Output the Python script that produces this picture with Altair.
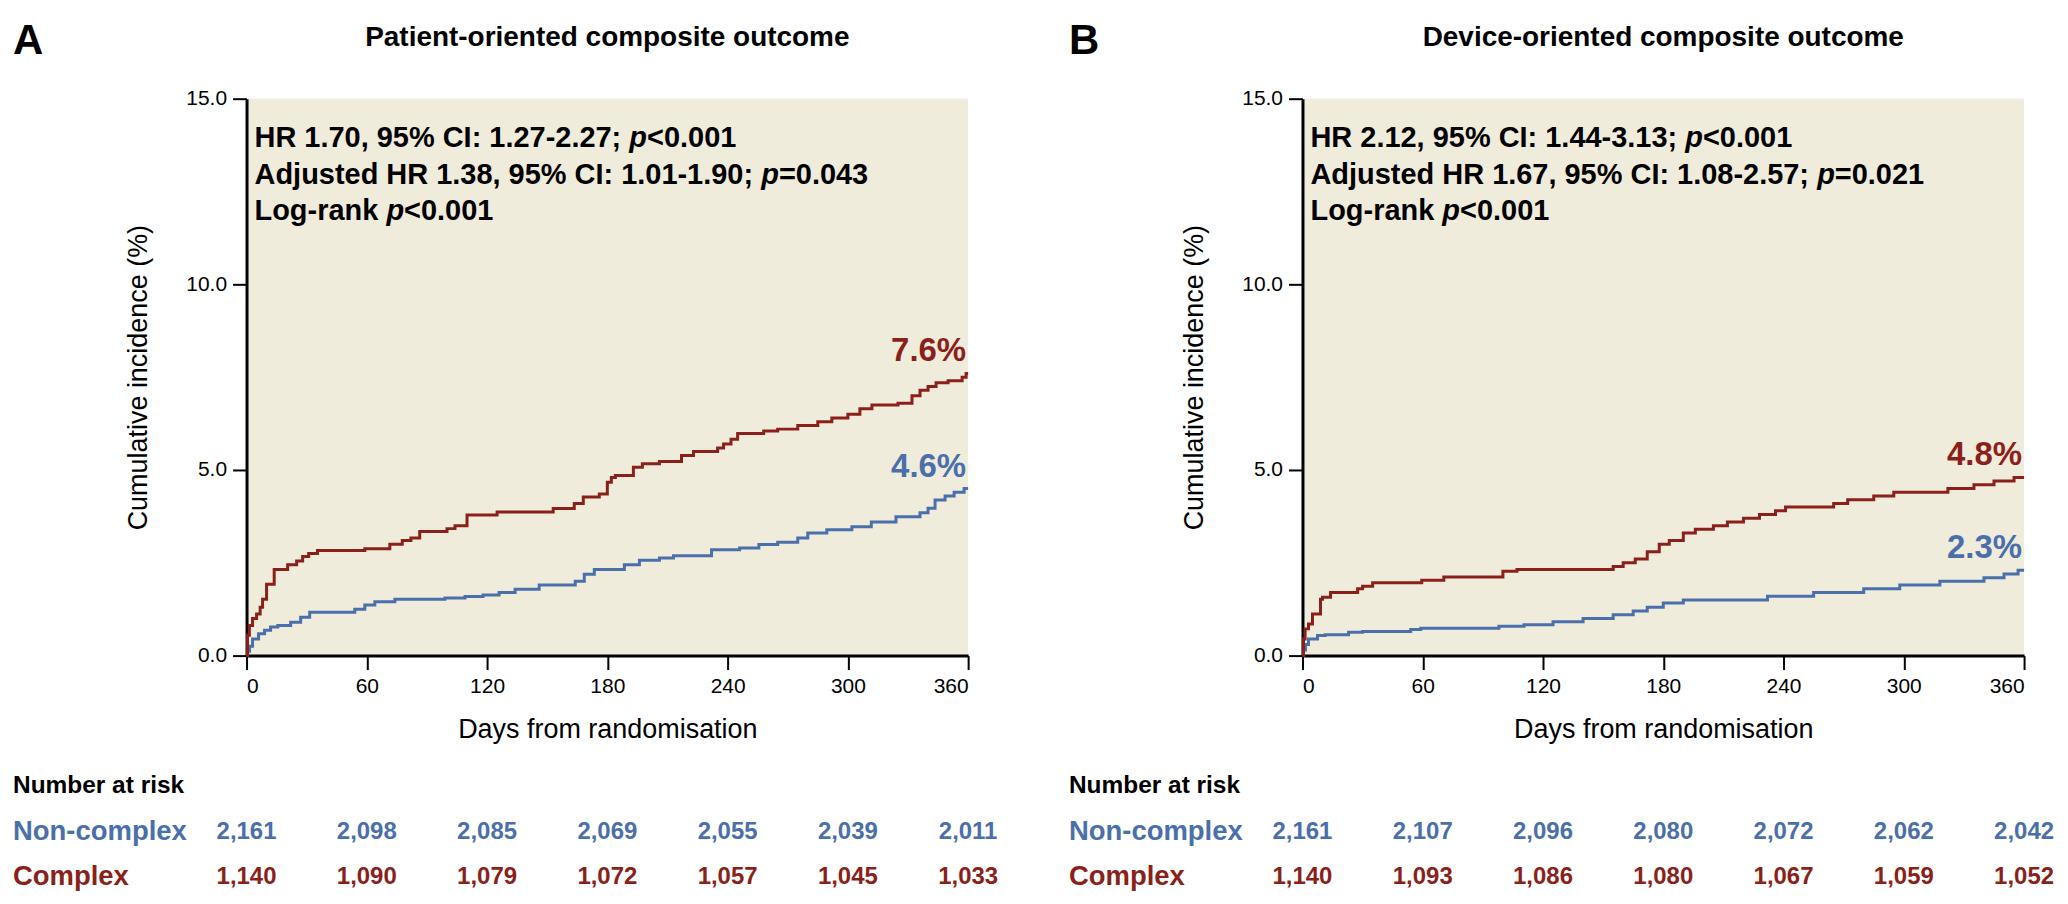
import altair as alt
import pandas as pd

# ---------------- data ----------------
A_complex_day = [0, 0.5, 1.4, 3, 5, 6.8, 8, 10, 13.8, 20.5, 25, 28, 31, 35.4, 59, 71.5, 77.7, 82, 86.4, 100, 104, 110, 125, 153, 163.5, 168, 176, 180, 182, 184, 193, 197.5, 206, 217, 223, 235, 238, 241.7, 245, 258, 265, 275, 285, 292, 300, 306, 312, 325, 332, 336, 340, 344, 350, 357, 359, 360]
A_complex_pct = [0, 0.55, 0.81, 1.0, 1.12, 1.3, 1.52, 1.92, 2.32, 2.45, 2.55, 2.67, 2.75, 2.83, 2.88, 3.0, 3.1, 3.17, 3.34, 3.42, 3.5, 3.79, 3.87, 3.96, 4.1, 4.27, 4.35, 4.67, 4.8, 4.85, 5.07, 5.17, 5.23, 5.39, 5.5, 5.59, 5.7, 5.83, 5.98, 6.05, 6.1, 6.2, 6.3, 6.4, 6.5, 6.65, 6.75, 6.8, 7.0, 7.15, 7.25, 7.35, 7.4, 7.5, 7.6, 7.6]

A_noncomplex_day = [0, 0.5, 1.5, 3, 6, 9, 12, 15.6, 22, 27, 31.5, 54, 59, 64, 74, 99, 109, 118, 126, 134, 146, 164, 168.5, 173.5, 188.5, 196, 206, 213, 232, 246, 255.6, 265, 275, 280, 289.5, 302, 311.7, 324, 336, 340, 343.5, 348.5, 353, 358, 360]
A_noncomplex_pct = [0, 0.12, 0.25, 0.45, 0.59, 0.68, 0.77, 0.81, 0.9, 1.03, 1.17, 1.25, 1.36, 1.45, 1.52, 1.55, 1.59, 1.63, 1.7, 1.79, 1.9, 2.0, 2.19, 2.32, 2.45, 2.57, 2.63, 2.69, 2.85, 2.9, 2.99, 3.05, 3.17, 3.3, 3.39, 3.47, 3.6, 3.74, 3.85, 3.97, 4.19, 4.3, 4.4, 4.5, 4.5]

B_complex_day = [0, 0.5, 1.3, 3, 5, 9, 10, 14, 27.5, 30, 35, 59.5, 70.5, 100, 107, 155, 160, 166, 172, 178, 183, 190, 196, 205, 212, 220, 228, 236, 241, 265, 272, 285, 295, 322, 335, 345, 355, 360]
B_complex_pct = [0, 0.45, 0.72, 0.85, 1.12, 1.52, 1.57, 1.7, 1.8, 1.87, 1.96, 2.03, 2.12, 2.27, 2.32, 2.4, 2.5, 2.6, 2.8, 3.0, 3.1, 3.3, 3.4, 3.5, 3.6, 3.7, 3.8, 3.9, 4.0, 4.1, 4.2, 4.3, 4.4, 4.5, 4.6, 4.7, 4.8, 4.8]

B_noncomplex_day = [0, 0.5, 1.5, 3, 7.5, 11.3, 23, 30, 54, 59, 98, 110.5, 125, 140, 155, 165, 172, 180, 190, 232, 255, 280, 298, 318, 340, 350, 357, 360]
B_noncomplex_pct = [0, 0.15, 0.3, 0.45, 0.54, 0.56, 0.63, 0.65, 0.7, 0.74, 0.79, 0.83, 0.91, 1.0, 1.1, 1.2, 1.3, 1.42, 1.5, 1.6, 1.7, 1.8, 1.9, 2.0, 2.1, 2.2, 2.3, 2.3]

risk_days = [0, 60, 120, 180, 240, 300, 360]
A_risk_noncomplex = ["2,161", "2,098", "2,085", "2,069", "2,055", "2,039", "2,011"]
A_risk_complex = ["1,140", "1,090", "1,079", "1,072", "1,057", "1,045", "1,033"]
B_risk_noncomplex = ["2,161", "2,107", "2,096", "2,080", "2,072", "2,062", "2,042"]
B_risk_complex = ["1,140", "1,093", "1,086", "1,080", "1,067", "1,059", "1,052"]

A_stats = ["HR 1.70, 95% CI: 1.27-2.27; p<0.001",
           "Adjusted HR 1.38, 95% CI: 1.01-1.90; p=0.043",
           "Log-rank p<0.001"]
B_stats = ["HR 2.12, 95% CI: 1.44-3.13; p<0.001",
           "Adjusted HR 1.67, 95% CI: 1.08-2.57; p=0.021",
           "Log-rank p<0.001"]

A_end = {"Complex": (7.6, "7.6%"), "Non-complex": (4.5, "4.6%")}
B_end = {"Complex": (4.8, "4.8%"), "Non-complex": (2.3, "2.3%")}

groups = ["Non-complex", "Complex"]
RED = "#8b1f1a"
BLUE = "#4a6faa"
FONT = "Liberation Sans"
W, H = 723, 558

color_scale = alt.Scale(domain=groups, range=[BLUE, RED])

# Arial/Liberation Sans Bold advance widths (per 1000 em), used only to place the italic "p"
BOLD_W = {" ": 278, "%": 889, ",": 278, "-": 333, ".": 278, ":": 333, ";": 333, "<": 584, "=": 584,
          "A": 722, "C": 722, "H": 722, "I": 278, "L": 611, "R": 722,
          "a": 556, "d": 611, "e": 556, "g": 611, "j": 278, "k": 556, "n": 611, "o": 611,
          "p": 611, "r": 389, "s": 556, "t": 333, "u": 611}


def tw(s, size):
    return sum(BOLD_W.get(c, 556) for c in s) * size / 1000.0


def txt(text, x, y, size, color="black", align="left", baseline="middle", weight="bold", style="normal"):
    return alt.Chart(pd.DataFrame({"t": [text]})).mark_text(
        align=align, baseline=baseline, fontSize=size, fontWeight=weight, font=FONT,
        fontStyle=style, color=color
    ).encode(x=alt.value(x), y=alt.value(y), text="t:N")


def stat_line(s, x, y, size):
    i = max(s.rfind("p<"), s.rfind("p="))
    pre, post = s[:i], s[i + 1:]
    x1 = x + tw(pre, size)
    x2 = x1 + tw("p", size)
    return [txt(pre, x, y, size, baseline="alphabetic"),
            txt("p", x1, y, size, baseline="alphabetic", style="italic"),
            txt(post, x2, y, size, baseline="alphabetic")]


def panel(letter, title, cdays, cpct, ndays, npct, risk_n, risk_c, stats, ends):
    df = pd.concat([
        pd.DataFrame({"day": ndays, "pct": npct, "group": "Non-complex"}),
        pd.DataFrame({"day": cdays, "pct": cpct, "group": "Complex"}),
    ])
    x = alt.X("day:Q", scale=alt.Scale(domain=[0, 360], nice=False),
              axis=alt.Axis(values=risk_days, title="Days from randomisation", titlePadding=20))
    y = alt.Y("pct:Q", scale=alt.Scale(domain=[0, 15], nice=False),
              axis=alt.Axis(values=[0, 5, 10, 15], format=".1f", title="Cumulative incidence (%)", titlePadding=33))
    lines = alt.Chart(df).mark_line(interpolate="step-after", strokeWidth=3).encode(
        x=x, y=y, color=alt.Color("group:N", scale=color_scale, legend=None))

    end_df = pd.DataFrame({"group": list(ends.keys()),
                           "day": [360] * len(ends),
                           "pct": [v[0] for v in ends.values()],
                           "label": [v[1] for v in ends.values()]})
    end_lbl = alt.Chart(end_df).mark_text(align="right", baseline="alphabetic", dy=-12, dx=-2,
                                          fontSize=33, fontWeight="bold", font=FONT).encode(
        x="day:Q", y="pct:Q", text="label:N",
        color=alt.Color("group:N", scale=color_scale, legend=None))

    rn = alt.Chart(pd.DataFrame({"day": risk_days, "n": risk_n})).mark_text(
        align="center", baseline="middle", fontSize=24, fontWeight="bold", font=FONT, color=BLUE
    ).encode(x="day:Q", y=alt.value(735), text="n:N")
    rc = alt.Chart(pd.DataFrame({"day": risk_days, "n": risk_c})).mark_text(
        align="center", baseline="middle", fontSize=24, fontWeight="bold", font=FONT, color=RED
    ).encode(x="day:Q", y=alt.value(780), text="n:N")

    layers = [lines, end_lbl, rn, rc,
              txt(letter, -234, -58, 42),
              txt(title, W / 2, -61, 28, align="center"),
              txt("Number at risk", -234, 689, 24.5),
              txt("Non-complex", -234, 735, 27.5, color=BLUE),
              txt("Complex", -234, 780, 27.5, color=RED)]
    for i, s in enumerate(stats):
        layers += stat_line(s, 8, 48 + 37 * i, 29)
    return alt.layer(*layers).properties(width=W, height=H)


pA = panel("A", "Patient-oriented composite outcome", A_complex_day, A_complex_pct,
           A_noncomplex_day, A_noncomplex_pct, A_risk_noncomplex, A_risk_complex, A_stats, A_end)
pB = panel("B", "Device-oriented composite outcome", B_complex_day, B_complex_pct,
           B_noncomplex_day, B_noncomplex_pct, B_risk_noncomplex, B_risk_complex, B_stats, B_end)

chart = alt.hconcat(pA, pB, spacing=70).properties(
    padding={"left": 5, "right": 5, "top": 11, "bottom": 5}
).configure_view(
    fill="#f0ecdc", stroke=None
).configure_axis(
    grid=False, domainColor="black", domainWidth=3, tickColor="black", tickWidth=2, tickSize=14,
    labelFont=FONT, labelFontSize=21, labelColor="black", labelPadding=6,
    titleFont=FONT, titleFontSize=27, titleFontWeight="normal", titleColor="black"
)

chart.save("out.html", embed_options={"renderer": "svg", "actions": False})
